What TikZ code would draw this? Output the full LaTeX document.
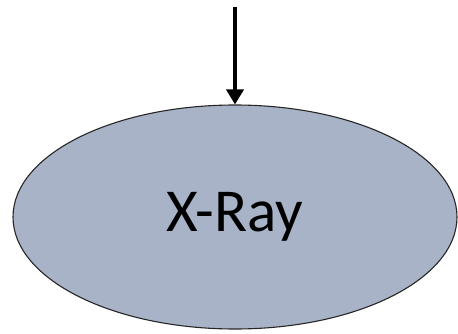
\documentclass[tikz,border=0pt]{standalone}
\usepackage{fontspec}
\setmainfont{Carlito}
\usetikzlibrary{arrows.meta, positioning, shapes.geometric}
\definecolor{rayblue}{RGB}{168,179,200}
\begin{document}
\begin{tikzpicture}[
        x=1pt, y=1pt,
        oval/.style={ellipse, draw=black!85, line width=1.1pt, fill=rayblue, minimum width=444pt, minimum height=224pt, inner sep=0pt, font=\fontsize{61}{61}\selectfont},
        arr/.style={-{Triangle[length=15pt, width=17pt]}, line width=4.5pt}
        ]
        \useasboundingbox (0,0) rectangle (458,333);
        \node[oval] (xray) at (235,116) {X-Ray};
        \coordinate (top) at (235,326);
        \draw[arr] (top) -- (xray.north);
    \end{tikzpicture}
\end{document}
